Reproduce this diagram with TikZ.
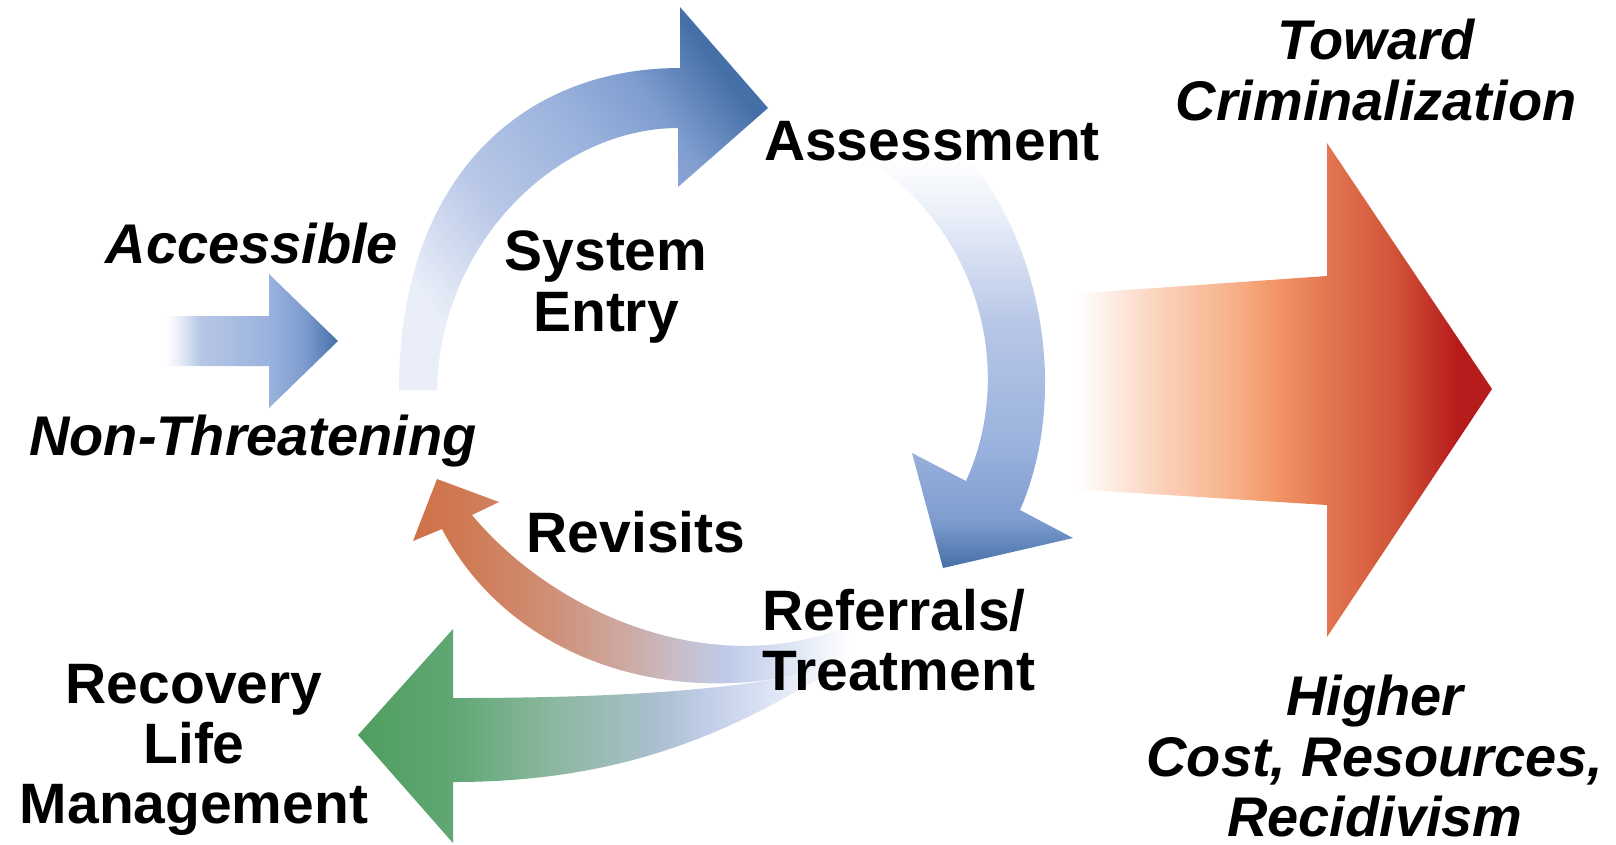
\documentclass[tikz,border=0pt]{standalone}
\usepackage{fontspec}
\setmainfont{Liberation Sans}
\usepackage{tikz}
\usetikzlibrary{positioning}

\definecolor{blueL}{HTML}{E9EEF8}
\definecolor{blueA}{HTML}{B8C7E7}
\definecolor{blueB}{HTML}{9AB2DD}
\definecolor{blueC}{HTML}{7F9DCF}
\definecolor{bluedark}{HTML}{4570A7}
\definecolor{peachL}{HTML}{FBD3BD}
\definecolor{peach}{HTML}{F6AE85}
\definecolor{orange}{HTML}{F29565}
\definecolor{redmid}{HTML}{E27550}
\definecolor{redbrick}{HTML}{D2553A}
\definecolor{reddark}{HTML}{B71C1C}
\definecolor{greendark}{HTML}{4F9E60}
\definecolor{greenmid}{HTML}{62A775}
\definecolor{greensage}{HTML}{8CB8A0}
\definecolor{greengrey}{HTML}{A9BFCD}
\definecolor{lavender}{HTML}{BFCBE8}
\definecolor{lavenderL}{HTML}{E2E8F6}
\definecolor{rust}{HTML}{D07048}
\definecolor{rustL}{HTML}{D07A54}
\definecolor{salmon}{HTML}{CF9078}
\definecolor{rosegrey}{HTML}{CDA8A0}
\definecolor{mauve}{HTML}{C8BCC8}

% gradients of the arrows
\pgfdeclarehorizontalshading{smallblue}{100bp}{color(0bp)=(white); color(25bp)=(white);
  color(29bp)=(blueL); color(35bp)=(blueA); color(55bp)=(blueB); color(65bp)=(blueC);
  color(75bp)=(bluedark); color(100bp)=(bluedark)}
\pgfdeclarehorizontalshading{upblue}{100bp}{color(0bp)=(blueL); color(25bp)=(blueL);
  color(40bp)=(blueA); color(55bp)=(blueB); color(65bp)=(blueC);
  color(75bp)=(bluedark); color(100bp)=(bluedark)}
\pgfdeclareverticalshading{downblue}{100bp}{color(0bp)=(bluedark); color(25bp)=(bluedark);
  color(31bp)=(blueC); color(40bp)=(blueB); color(55bp)=(blueA); color(68bp)=(blueL);
  color(75bp)=(white); color(100bp)=(white)}
\pgfdeclarehorizontalshading{redout}{100bp}{color(0bp)=(white); color(29bp)=(white);
  color(38bp)=(peachL); color(47bp)=(peach); color(51bp)=(orange); color(57bp)=(redmid);
  color(64bp)=(redbrick); color(71bp)=(reddark); color(100bp)=(reddark)}
\pgfdeclarehorizontalshading{greenout}{100bp}{color(0bp)=(greendark); color(25bp)=(greendark);
  color(35bp)=(greenmid); color(45bp)=(greensage); color(55bp)=(greengrey);
  color(60bp)=(lavender); color(68bp)=(lavenderL); color(75bp)=(white); color(100bp)=(white)}
\pgfdeclarehorizontalshading{revisit}{100bp}{color(0bp)=(rust); color(25bp)=(rust);
  color(31bp)=(rustL); color(41bp)=(salmon); color(49bp)=(rosegrey); color(55bp)=(mauve);
  color(61bp)=(lavender); color(69bp)=(lavenderL); color(75bp)=(white); color(100bp)=(white)}

\begin{document}
\begin{tikzpicture}[x=0.01cm, y=-0.01cm,
  label text/.style={font=\fontsize{16.2}{17.1}\selectfont\bfseries, align=center, inner sep=0pt},
  slant text/.style={label text, font=\fontsize{15.9}{17.1}\selectfont\bfseries\itshape}]

\useasboundingbox (0,0) rectangle (1616,844);

% criminalization
\shade[shading=redout] (1040,296) -- (1327,276) -- (1327,143) -- (1492,389) -- (1327,637)
  -- (1327,505) -- (1040,487) -- cycle;

% arrow into the cycle
\shade[shading=smallblue] (165,316) -- (269,316) -- (269,274) -- (338,341) -- (269,408)
  -- (269,366) -- (165,366) -- cycle;

% system entry
\shade[shading=upblue, shading angle=37] (399,390) .. controls (399,180) and (520,68) .. (680,68)
  -- (680,7) -- (768,108) -- (678,187) -- (678,128) .. controls (560,128) and (440,240) .. (437,390) -- cycle;

% assessment
\shade[shading=downblue] (868,158) -- (968,158) .. controls (1045,250) and (1068,400) .. (1020,510)
  -- (1073,538) -- (943,568) -- (912,453) -- (966,481) .. controls (1012,380) and (988,240) .. (868,158) -- cycle;

% recovery
\shade[shading=greenout] (358,735) -- (453,629) -- (453,698) .. controls (620,698) and (760,690) .. (850,662)
  -- (790,695) .. controls (700,745) and (600,782) .. (453,782) -- (453,843) -- cycle;

% revisits
\shade[shading=revisit] (850,625) .. controls (720,680) and (560,620) .. (472,515) -- (499,502)
  -- (437,479) -- (413,541) -- (442,529) .. controls (510,660) and (680,720) .. (850,660) -- cycle;

\node[slant text] (toward) at (1376,70) {Toward\\Criminalization};
\node[slant text] (higher) at (1375,756) {Higher\\Cost, Resources,\\Recidivism};
\node[label text] (recovery) at (194,750) {Recovery\\Life\\Management};
\node[slant text, anchor=base] (access) at (252,263) {Accessible};
\node[slant text, anchor=base] (nonthreat) at (253,455) {Non-Threatening};
\node[label text] (entry) at (606,287) {System\\Entry};
\node[label text, anchor=base] (assess) at (932,160) {Assessment};
\node[label text, anchor=west, align=left] (referral) at (762,640) {Referrals/\\Treatment};
\node[label text, anchor=base] (revisit) at (636,552) {Revisits};

\end{tikzpicture}
\end{document}
